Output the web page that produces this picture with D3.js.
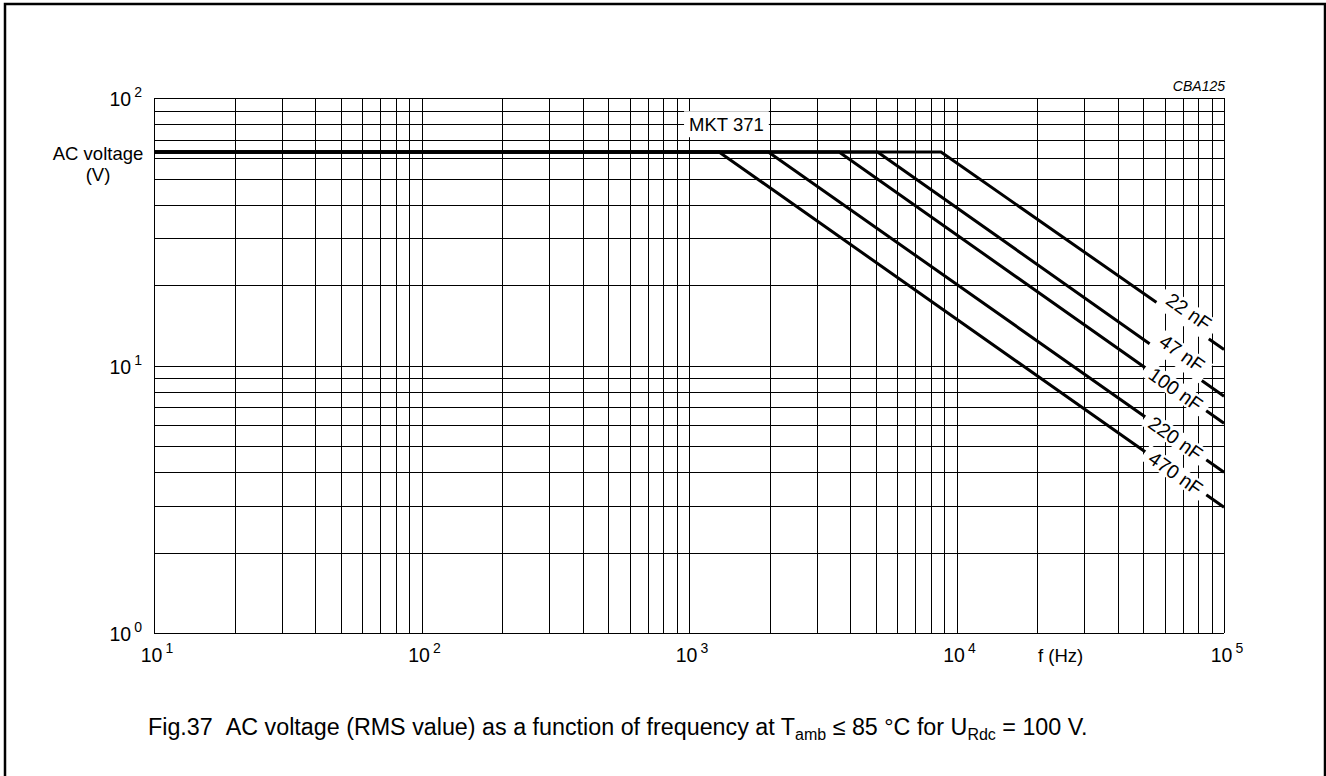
<!DOCTYPE html>
<html>
<head>
<meta charset="utf-8">
<script src="https://cdn.jsdelivr.net/npm/d3@7"></script>
<style>
  html, body { margin: 0; padding: 0; background: #fff; }
  svg { display: block; font-family: "Liberation Sans", Arial, sans-serif; }
  text { white-space: pre; }
</style>
</head>
<body>
<svg id="chart" width="1326" height="776"></svg>
<script>
// ---------------- data ----------------
const capacitances = ["22 nF", "47 nF", "100 nF", "220 nF", "470 nF"];
const cornerFreqHz = [8750, 5070, 3640, 1980, 1295];   // where each curve leaves the flat line
const endVoltageV = [11.5, 7.7, 6.1, 4.0, 2.96];       // AC voltage at 100 kHz
const flatVoltageV = 63;                               // rated AC voltage (flat part)
const freqDomain = [10, 100000];
const voltDomain = [1, 100];
const xTickExponents = [1, 2, 3, 4, 5];
const yTickExponents = [0, 1, 2];
const labelFreqHz = [70000, 66000, 66000, 66000, 66000]; // where each curve label sits
const seriesName = "MKT 371";
const seriesNameAt = [1380, 80];                        // [Hz, V]

// ---------------- layout ----------------
const svg = d3.select("#chart");
const FONT = 18.5;
const x = d3.scaleLog().domain(freqDomain).range([154, 1224]);
const y = d3.scaleLog().domain(voltDomain).range([633.3, 98.3]);

// outer frame
svg.append("rect").attr("x", 5).attr("y", 4).attr("width", 1320).attr("height", 800)
  .attr("fill", "none").attr("stroke", "#000").attr("stroke-width", 2.5);

// ---------------- grid ----------------
const xGrid = [];
for (let d = 1; d < 5; d++) for (let k = 1; k < 10; k++) xGrid.push(k * Math.pow(10, d));
xGrid.push(1e5);
const yGrid = [];
for (let d = 0; d < 2; d++) for (let k = 1; k < 10; k++) yGrid.push(k * Math.pow(10, d));
yGrid.push(100);

const grid = svg.append("g").attr("stroke", "#000").attr("stroke-width", 1)
  .attr("shape-rendering", "crispEdges");
grid.selectAll("line.v").data(xGrid).join("line").attr("class", "v")
  .attr("x1", d => Math.round(x(d)) + 0.5).attr("x2", d => Math.round(x(d)) + 0.5)
  .attr("y1", y(100)).attr("y2", y(1));
grid.selectAll("line.h").data(yGrid).join("line").attr("class", "h")
  .attr("y1", d => Math.round(y(d)) + 0.5).attr("y2", d => Math.round(y(d)) + 0.5)
  .attr("x1", x(10)).attr("x2", x(1e5));

// ---------------- curves ----------------
const line = d3.line().x(d => x(d[0])).y(d => y(d[1]));
const curves = capacitances.map((c, i) => [
  [freqDomain[0], flatVoltageV], [cornerFreqHz[i], flatVoltageV], [freqDomain[1], endVoltageV[i]]
]);
svg.append("g").selectAll("path").data(curves).join("path")
  .attr("d", line).attr("fill", "none").attr("stroke", "#000")
  .attr("stroke-width", 3).attr("stroke-linejoin", "miter");

// ---------------- curve labels ----------------
const labelOffsets = [11, 11, 0, 0, 0]; // px shift perpendicular above the line
capacitances.forEach((c, i) => {
  const x0 = x(cornerFreqHz[i]), y0 = y(flatVoltageV);
  const x1 = x(freqDomain[1]), y1 = y(endVoltageV[i]);
  const ang = Math.atan2(y1 - y0, x1 - x0) * 180 / Math.PI;
  const f = labelFreqHz[i];
  const t = (x(f) - x0) / (x1 - x0);
  const px = x(f), py = y0 + t * (y1 - y0);
  const g = svg.append("g").attr("transform", `translate(${px},${py}) rotate(${ang})`);
  const rect = g.append("rect");
  const txt = g.append("text").attr("x", 0).attr("y", -labelOffsets[i])
    .attr("text-anchor", "middle").attr("dominant-baseline", "central")
    .attr("font-size", 19.5).attr("fill", "#000").text(c);
  const w = txt.node().getComputedTextLength() + 14;
  const top = -labelOffsets[i] - 9;
  const bottom = Math.max(9 - labelOffsets[i], 4);
  rect.attr("x", -w / 2).attr("y", top).attr("width", w).attr("height", bottom - top)
    .attr("fill", "#fff");
});

// series name
{
  const g = svg.append("g").attr("transform", `translate(${x(seriesNameAt[0])},${y(seriesNameAt[1])})`);
  const rect = g.append("rect");
  const txt = g.append("text").attr("text-anchor", "middle").attr("dominant-baseline", "central")
    .attr("font-size", FONT).text(seriesName);
  const w = txt.node().getComputedTextLength() + 10;
  rect.attr("x", -w / 2).attr("y", -13).attr("width", w).attr("height", 26).attr("fill", "#fff");
}

// ---------------- tick labels ----------------
function powLabel(sel, e) {
  sel.append("tspan").text("10");
  sel.append("tspan").attr("dx", 3).attr("dy", -9).attr("font-size", 14).text(String(e));
}
yTickExponents.forEach(e => {
  const t = svg.append("text").attr("x", 142).attr("y", y(Math.pow(10, e)) + 8)
    .attr("text-anchor", "end").attr("font-size", 19.5);
  powLabel(t, e);
});
xTickExponents.forEach(e => {
  const t = svg.append("text").attr("x", x(Math.pow(10, e)) + 3).attr("y", 662)
    .attr("text-anchor", "middle").attr("font-size", 19.5);
  powLabel(t, e);
});

// axis titles
svg.append("text").attr("x", 98).attr("y", 160).attr("text-anchor", "middle")
  .attr("font-size", FONT).text("AC voltage");
svg.append("text").attr("x", 98).attr("y", 181).attr("text-anchor", "middle")
  .attr("font-size", FONT).text("(V)");
svg.append("text").attr("x", 1038).attr("y", 662).attr("font-size", FONT).text("f (Hz)");

// figure code
svg.append("text").attr("x", 1225).attr("y", 91).attr("text-anchor", "end")
  .attr("font-size", 14).attr("font-style", "italic").text("CBA125");

// caption
{
  const cap = svg.append("text").attr("x", 148).attr("y", 735).attr("font-size", 23.3);
  cap.append("tspan").text("Fig.37\u00A0\u00A0AC voltage (RMS value) as a function of frequency at T");
  cap.append("tspan").attr("dy", 5).attr("font-size", 16).text("amb");
  cap.append("tspan").attr("dy", -5).text(" \u2264 85 \u00B0C for U");
  cap.append("tspan").attr("dy", 5).attr("font-size", 16).text("Rdc");
  cap.append("tspan").attr("dy", -5).text(" = 100 V.");
}
</script>
</body>
</html>
